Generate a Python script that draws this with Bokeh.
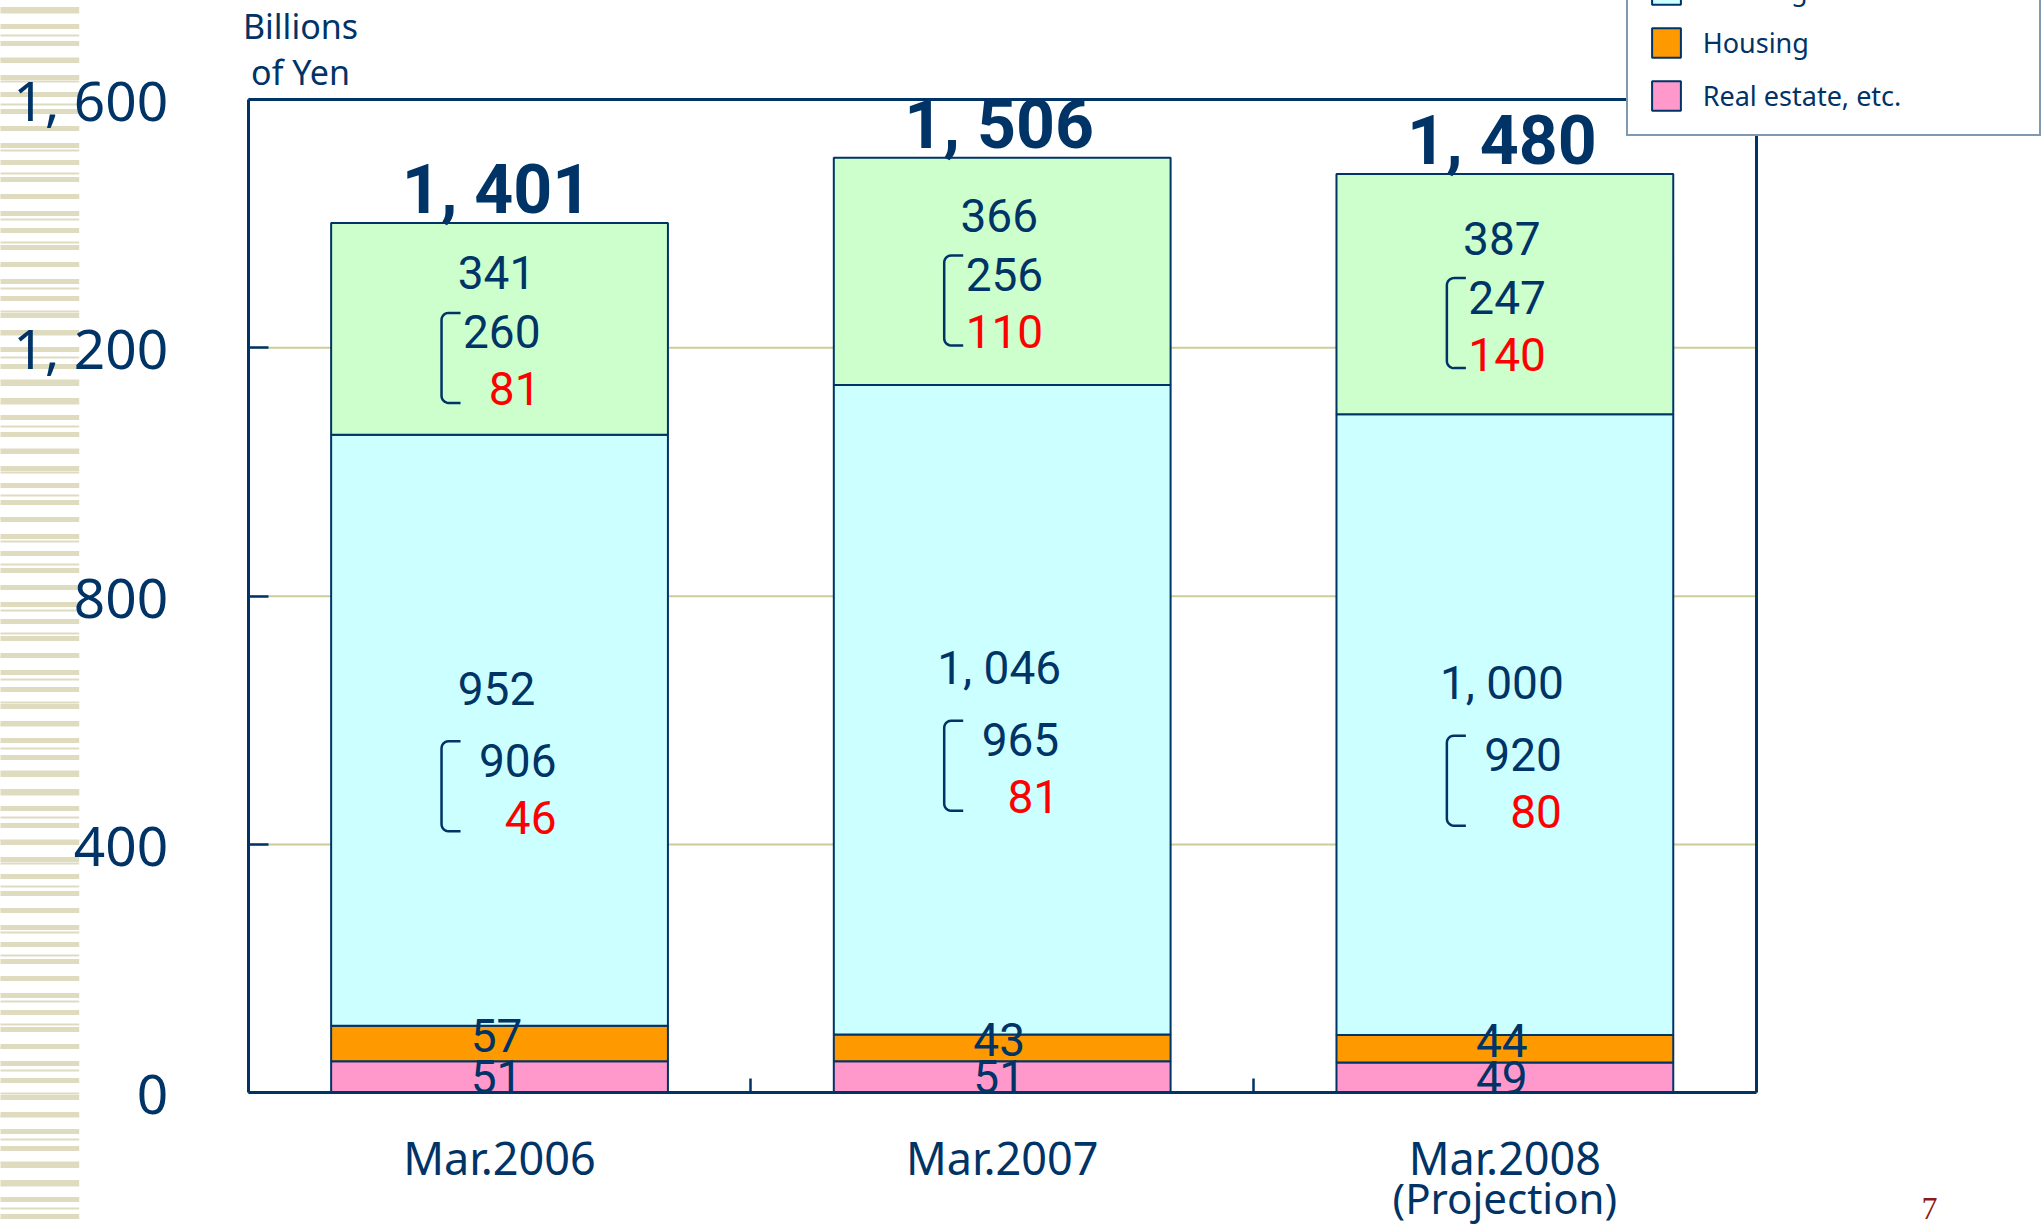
import numpy as np
from bokeh.plotting import figure
from bokeh.models import (FixedTicker, Legend, LegendItem, Label, BoxAnnotation,
                          ColumnDataSource, Range1d, LinearAxis)
from bokeh.core.properties import value
from bokeh.embed import file_html
from bokeh.resources import INLINE

# ---------------- data ----------------
categories = ["Mar.2006", "Mar.2007", "Mar.2008"]
category_note = "(Projection)"
real_estate = [51, 51, 49]
housing = [57, 43, 44]
building = [952, 1046, 1000]
building_domestic = [906, 965, 920]
building_overseas = [46, 81, 80]
civil = [341, 366, 387]
civil_domestic = [260, 256, 247]
civil_overseas = [81, 110, 140]
totals = [1401, 1506, 1480]
y_ticks = [0, 400, 800, 1200, 1600]
unit_label = ["Billions", "of Yen"]
legend_labels = ["Building", "Housing", "Real estate, etc."]
page_number = "7"

# ---------------- style ----------------
NAVY = "#003366"
RED = "#FF0000"
C_RE = "#FF99CC"
C_HO = "#FF9900"
C_BU = "#CCFFFF"
C_CI = "#CCFFCC"
GRID = "#CCCC99"
STRIPE = "#DEDBBE"
NUM_FONT = value("Liberation Sans Narrow, Roboto")
TXT_FONT = "Noto Sans"

W, H = 2042, 1227
# plot box (pixels, from top-left of canvas)
PL, PR, PT, PB = 247.7, 1755.7, 99.0, 1092.3
FW, FH = PR - PL, PB - PT
YMAX = 1600
n = len(categories)
UPP = YMAX / FH          # data units per pixel (y)
XPP = n / FW             # data units per pixel (x)


def fmt(v):
    return f"{v:,}".replace(",", ", ")


x = np.arange(n) + 0.5
re_ = np.array(real_estate, float)
ho_ = np.array(housing, float)
bu_ = np.array(building, float)
ci_ = np.array(civil, float)

src = ColumnDataSource(dict(x=x, re=re_, ho=ho_, bu=bu_, ci=ci_))

p = figure(width=W, height=H, output_backend="svg", toolbar_location=None,
           x_range=Range1d(-PL * XPP, n + (W - PR) * XPP),
           y_range=Range1d(-(H - PB) * UPP, YMAX + PT * UPP),
           min_border_left=0, min_border_right=0,
           min_border_top=0, min_border_bottom=0)
p.title.visible = False
p.background_fill_color = "white"
p.border_fill_color = "white"
p.outline_line_color = None
p.xgrid.visible = False
p.ygrid.visible = False

# decorative stripes on the far left
for sc, wt in [(17, 5), (23, 2)]:
    p.add_layout(BoxAnnotation(left=-5, right=78.7, bottom=-5, top=H + 5,
                               left_units="screen", right_units="screen",
                               bottom_units="screen", top_units="screen",
                               fill_alpha=0, line_color=None,
                               hatch_pattern="horizontal_line", hatch_color=STRIPE,
                               hatch_scale=sc, hatch_weight=wt, level="underlay"))

# grid lines at inner ticks
gy = y_ticks[1:-1]
p.segment(x0=[0] * len(gy), x1=[n] * len(gy), y0=gy, y1=gy,
          line_color=GRID, line_width=2, level="underlay")

# y axis (left)
ya = p.yaxis[0]
ya.fixed_location = 0
ya.bounds = (0, YMAX)
ya.ticker = FixedTicker(ticks=y_ticks)
ya.major_label_overrides = {t: fmt(t) for t in y_ticks}
ya.major_tick_in = 20
ya.major_tick_out = 0
ya.minor_tick_line_color = None
ya.major_tick_line_color = NAVY
ya.major_tick_line_width = 2.5
ya.axis_line_color = NAVY
ya.axis_line_width = 3
ya.major_label_text_font = TXT_FONT
ya.major_label_text_font_size = "55px"
ya.major_label_text_color = NAVY
ya.major_label_standoff = 80

# x axis (below)
xa = p.xaxis[0]
xa.fixed_location = 0
xa.bounds = (0, n)
xa.ticker = FixedTicker(ticks=list(x), minor_ticks=list(np.arange(1, n)))
xa.major_label_overrides = {float(xi): c for xi, c in zip(x, categories)}
xa.major_tick_line_color = None
xa.minor_tick_in = 14
xa.minor_tick_out = 0
xa.minor_tick_line_color = NAVY
xa.minor_tick_line_width = 2.5
xa.axis_line_color = NAVY
xa.axis_line_width = 3
xa.major_label_text_font = TXT_FONT
xa.major_label_text_font_size = "45px"
xa.major_label_text_color = NAVY
xa.major_label_standoff = 28

# right and top frame lines
for side, loc, bnds in [("right", n, (0, YMAX)), ("above", YMAX, (0, n))]:
    ax = LinearAxis(fixed_location=loc, bounds=bnds,
                    ticker=FixedTicker(ticks=[], minor_ticks=[]),
                    axis_line_color=NAVY, axis_line_width=3,
                    major_tick_line_color=None, minor_tick_line_color=None,
                    major_label_text_font_size="0px")
    p.add_layout(ax, side)

# bars
rs = p.vbar_stack(["re", "ho", "bu", "ci"], x="x", width=0.67, source=src,
                  fill_color=[C_RE, C_HO, C_BU, C_CI], line_color=NAVY, line_width=2)
r_re, r_ho, r_bu, r_ci = rs


# ---------------- labels ----------------
def txt(xs, ys, texts, color=NAVY, size="46px", align="center", style="normal"):
    p.text(x=list(xs), y=list(ys), text=list(texts), text_font=NUM_FONT,
           text_font_size=size, text_color=color, text_align=align,
           text_baseline="middle", text_font_style=style)


tot = re_ + ho_ + bu_ + ci_
txt(x - 3 * XPP, tot + 33 * UPP, [fmt(v) for v in totals], size="68px", style="bold")

mid_ci = re_ + ho_ + bu_ + ci_ / 2
mid_bu = re_ + ho_ + bu_ / 2
xc_top = x - 3 * XPP

# civil group
txt(xc_top, mid_ci + 56 * UPP, [fmt(v) for v in civil])
txt(x + 41 * XPP, mid_ci - 3 * UPP, [fmt(v) for v in civil_domestic], align="right")
txt(x + 41 * XPP, mid_ci - 60 * UPP, [fmt(v) for v in civil_overseas], color=RED,
    align="right")
# building group
txt(xc_top, mid_bu + 42 * UPP, [fmt(v) for v in building])
txt(x + 57 * XPP, mid_bu - 30 * UPP, [fmt(v) for v in building_domestic], align="right")
txt(x + 57 * XPP, mid_bu - 87 * UPP, [fmt(v) for v in building_overseas], color=RED,
    align="right")
# housing / real estate
txt(xc_top, re_ + ho_ / 2 + 8 * UPP, [fmt(v) for v in housing])
txt(xc_top, re_ / 2, [fmt(v) for v in real_estate])


# brackets
def bracket(xc, y_mid_line, y_bot_line):
    top = y_mid_line + 19 * UPP
    bot = y_bot_line - 14 * UPP
    h = (top - bot) / UPP
    w, r = 19, 7
    bl = -58
    t = np.linspace(0, np.pi / 2, 7)
    dx = [w] + list(r - r * np.sin(t)) + list(r - r * np.cos(t)) + [w]
    dy = [0] + list(r - r * np.cos(t)) + list(h - r + r * np.sin(t)) + [h]
    xs = [xc + (bl + d) * XPP for d in dx]
    ys = [top - d * UPP for d in dy]
    return xs, ys


bxs, bys = [], []
for i in range(n):
    for a, b in [(mid_ci[i] - 3 * UPP, mid_ci[i] - 60 * UPP),
                 (mid_bu[i] - 30 * UPP, mid_bu[i] - 87 * UPP)]:
        xs_, ys_ = bracket(x[i], a, b)
        bxs.append(xs_)
        bys.append(ys_)
p.multi_line(bxs, bys, line_color=NAVY, line_width=2.5)

# category note for projection
p.add_layout(Label(x=x[-1], y=H - 1197, y_units="screen", text=category_note,
                   text_font=TXT_FONT, text_font_size="42px", text_color=NAVY,
                   text_align="center", text_baseline="middle"))

# unit label
p.add_layout(Label(x=300, y=H - 25, x_units="screen", y_units="screen",
                   text=unit_label[0], text_font=TXT_FONT, text_font_size="34px",
                   text_color=NAVY, text_align="center", text_baseline="middle"))
p.add_layout(Label(x=300, y=H - 71, x_units="screen", y_units="screen",
                   text=unit_label[1], text_font=TXT_FONT, text_font_size="34px",
                   text_color=NAVY, text_align="center", text_baseline="middle"))

# page number
p.add_layout(Label(x=1929, y=H - 1208, x_units="screen", y_units="screen",
                   text=page_number, text_font="Liberation Serif",
                   text_font_size="32px", text_color="#8B1A1A", text_align="center",
                   text_baseline="middle"))

# legend
legend = Legend(items=[LegendItem(label=legend_labels[0], renderers=[r_bu]),
                       LegendItem(label=legend_labels[1], renderers=[r_ho]),
                       LegendItem(label=legend_labels[2], renderers=[r_re])],
                location=(1625.7, H - 136))
legend.glyph_width = 36
legend.glyph_height = 37
legend.spacing = 16
legend.padding = 20
legend.margin = 0
legend.label_standoff = 19
legend.label_width = 316
legend.label_text_font = TXT_FONT
legend.label_text_font_size = "27px"
legend.label_text_color = NAVY
legend.border_line_color = NAVY
legend.border_line_width = 2.5
legend.background_fill_color = "white"
legend.background_fill_alpha = 1
p.add_layout(legend)

open("out.html", "w").write(file_html(p, INLINE))
